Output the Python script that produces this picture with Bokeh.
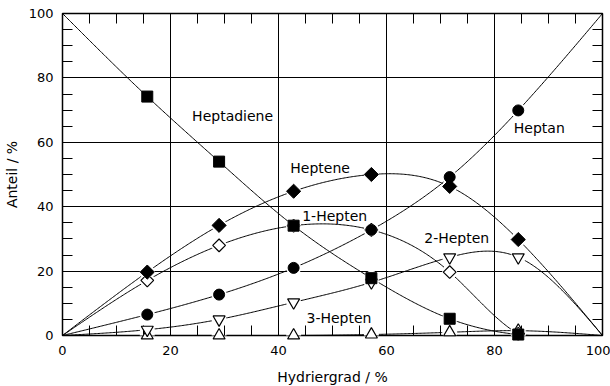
import numpy as np
from bokeh.plotting import figure
from bokeh.models import LinearAxis, SingleIntervalTicker, FixedTicker, Range1d, ColumnDataSource
from bokeh.embed import file_html
from bokeh.resources import INLINE
from bokeh.core.properties import value

# Hydriergrad of the samples, %
hydriergrad = [15.7, 29.0, 42.8, 57.2, 71.7, 84.4]

# Anteile of the components, %
heptadiene = [74.2, 54.0, 34.1, 17.8, 5.2, 0.3]
heptan = [6.5, 12.7, 21.0, 32.8, 49.2, 69.9]
heptene = [19.7, 34.2, 44.8, 50.0, 46.3, 29.8]
hepten_1 = [17.1, 28.0, 34.1, 32.8, 19.7, 0.5]
hepten_2 = [1.8, 5.0, 10.3, 16.5, 24.3, 24.3]
hepten_3 = [0.0, 0.0, 0.0, 0.3, 1.0, 1.5]

# Anteil at Hydriergrad 0 % and 100 %
curve_ends = {
    "heptadiene": (100, 0),
    "heptan": (0, 100),
    "heptene": (0, 0),
    "hepten_1": (0, 0),
    "hepten_2": (0, 0),
    "hepten_3": (0, 0),
}

# curve labels and where their centres sit
label_texts = ["Heptadiene", "Heptan", "Heptene", "1-Hepten", "2-Hepten", "3-Hepten"]
label_x = [31.5, 88.3, 47.7, 50.4, 73.0, 51.2]
label_y = [68.3, 64.3, 51.9, 37.0, 30.4, 5.3]

FONT = "DejaVu Sans"


def natural_spline(x, y, n=400):
    """Natural cubic spline through (x, y), sampled at n points."""
    x = np.asarray(x, float)
    y = np.asarray(y, float)
    m = len(x)
    h = np.diff(x)
    A = np.zeros((m, m))
    b = np.zeros(m)
    A[0, 0] = A[-1, -1] = 1.0
    for i in range(1, m - 1):
        A[i, i - 1] = h[i - 1]
        A[i, i] = 2 * (h[i - 1] + h[i])
        A[i, i + 1] = h[i]
        b[i] = 3 * ((y[i + 1] - y[i]) / h[i] - (y[i] - y[i - 1]) / h[i - 1])
    c = np.linalg.solve(A, b)
    bc = (y[1:] - y[:-1]) / h - h * (2 * c[:-1] + c[1:]) / 3
    d = (c[1:] - c[:-1]) / (3 * h)
    xs = np.linspace(x[0], x[-1], n)
    idx = np.clip(np.searchsorted(x, xs) - 1, 0, m - 2)
    dx = xs - x[idx]
    ys = y[idx] + bc[idx] * dx + c[idx] * dx ** 2 + d[idx] * dx ** 3
    return xs, ys


p = figure(
    frame_width=540, frame_height=322,
    x_range=Range1d(0, 100), y_range=Range1d(0, 100),
    output_backend="svg", toolbar_location=None,
    min_border_left=62, min_border_right=8,
    min_border_top=13, min_border_bottom=51,
    x_axis_label="Hydriergrad / %", y_axis_label="Anteil / %",
    background_fill_color="white", border_fill_color="white",
)
p.outline_line_color = "black"
p.outline_line_width = 1.5

minor_positions = [v for v in range(0, 101, 5) if v % 20]


def style_ticks(ax):
    ax.axis_line_color = None
    ax.major_tick_in = 0
    ax.major_tick_out = 0
    ax.minor_tick_in = 10
    ax.minor_tick_out = 0
    ax.minor_tick_line_color = "black"
    ax.minor_tick_line_width = 1


for ax in p.xaxis + p.yaxis:
    ax.ticker = SingleIntervalTicker(interval=20, num_minor_ticks=4)
    style_ticks(ax)
    ax.major_label_text_font = FONT
    ax.major_label_text_font_size = "13px"
    ax.major_label_text_color = "black"
    ax.axis_label_text_font = FONT
    ax.axis_label_text_font_size = "14px"
    ax.axis_label_text_font_style = "normal"
    ax.axis_label_text_color = "black"

p.yaxis.major_label_standoff = 9
p.yaxis.axis_label_standoff = 6
p.xaxis.major_label_standoff = 10
p.xaxis.axis_label_standoff = 11

# inward minor ticks on the top and right frame edges
for loc in ("above", "right"):
    extra = LinearAxis(ticker=FixedTicker(ticks=[], minor_ticks=minor_positions))
    style_ticks(extra)
    extra.major_label_standoff = 0
    p.add_layout(extra, loc)

for g in (p.xgrid[0], p.ygrid[0]):
    g.ticker = SingleIntervalTicker(interval=20, num_minor_ticks=4)
    g.grid_line_color = "black"
    g.grid_line_width = 1
    g.grid_line_alpha = 1.0

series = {
    "heptadiene": heptadiene,
    "heptan": heptan,
    "heptene": heptene,
    "hepten_1": hepten_1,
    "hepten_2": hepten_2,
    "hepten_3": hepten_3,
}

# smooth curves through each series, anchored at 0 % and 100 %
for name, vals in series.items():
    y0, y100 = curve_ends[name]
    cx, cy = natural_spline([0] + hydriergrad + [100], [y0] + vals + [y100])
    p.line(cx, cy, line_color="black", line_width=1)

# white halos leave a small gap in the curves around every marker
for vals in series.values():
    p.scatter(hydriergrad, vals, marker="circle", size=15,
              fill_color="white", line_color=None)

# markers may stick out over the frame edge
OV = "overlay"

# open markers
p.scatter(hydriergrad, hepten_3, marker="triangle", size=12, level=OV,
          fill_color="white", line_color="black", line_width=1.2)
p.scatter(hydriergrad, hepten_2, marker="inverted_triangle", size=12, level=OV,
          fill_color="white", line_color="black", line_width=1.2)
p.scatter(hydriergrad, hepten_1, marker="square", size=9, angle=np.pi / 4,
          level=OV, fill_color="white", line_color="black", line_width=1.2)

# filled markers, each with a small halo beneath it
for vals in (heptadiene, heptan, heptene):
    p.scatter(hydriergrad, vals, marker="circle", size=12, level=OV,
              fill_color="white", line_color=None)
p.scatter(hydriergrad, heptadiene, marker="square", size=11, level=OV,
          fill_color="black", line_color="black")
p.scatter(hydriergrad, heptan, marker="circle", size=11, level=OV,
          fill_color="black", line_color="black")
p.scatter(hydriergrad, heptene, marker="square", size=10, angle=np.pi / 4,
          level=OV, fill_color="black", line_color="black")

lab = ColumnDataSource(dict(x=label_x, y=label_y, t=label_texts))
p.text(x="x", y="y", text="t", source=lab, text_font=value(FONT),
       text_font_size="14px", text_align="center", text_baseline="middle",
       text_color="black")

open("out.html", "w").write(file_html(p, INLINE))
